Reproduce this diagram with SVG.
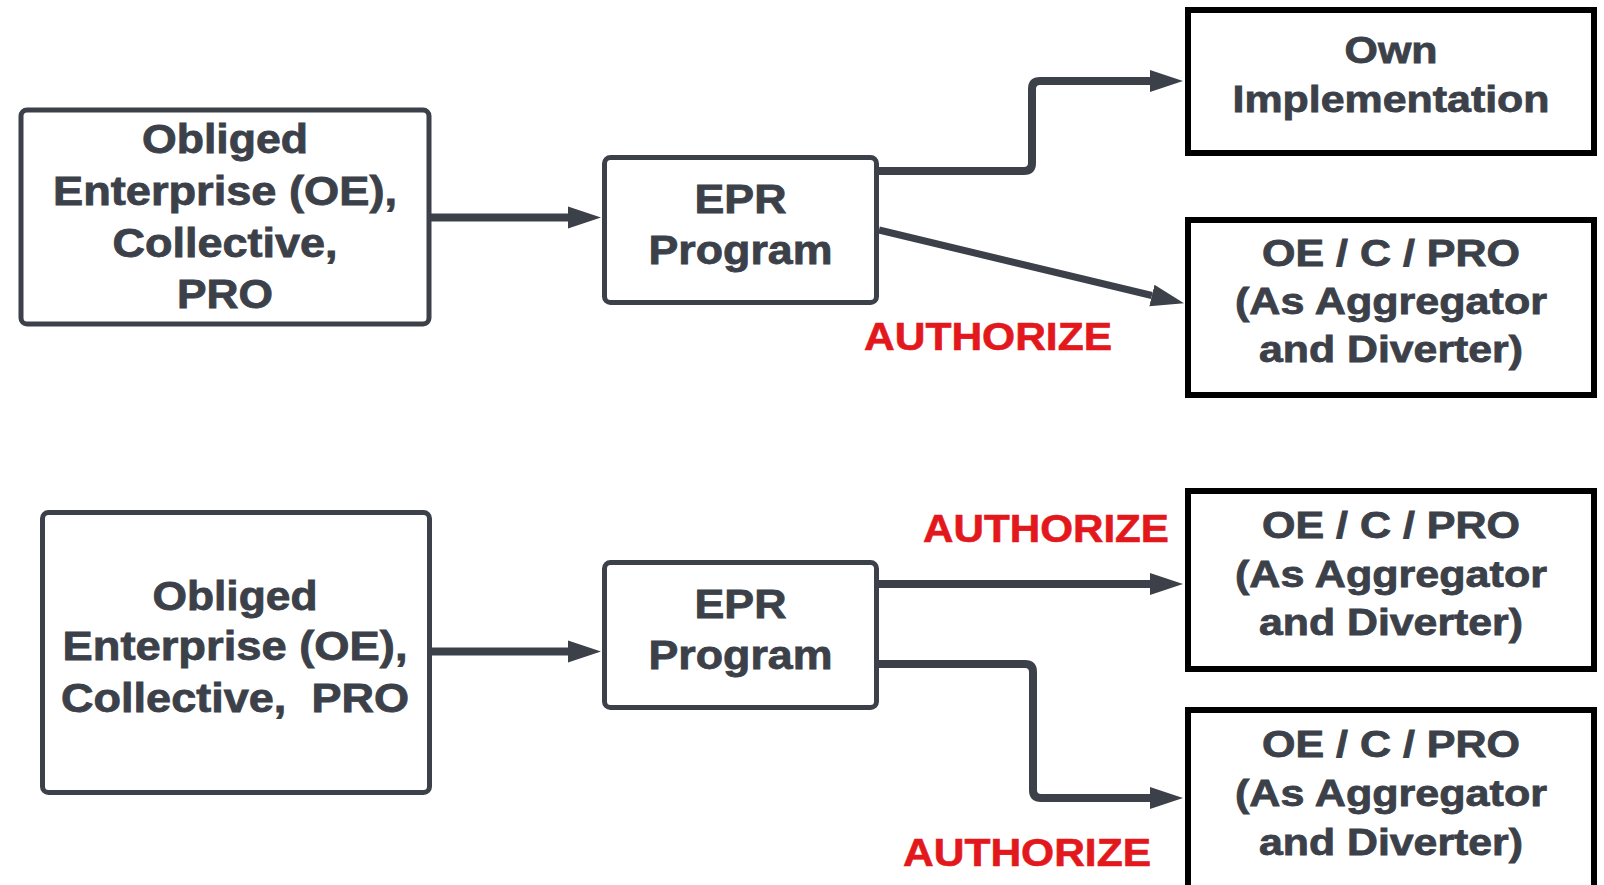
<svg xmlns="http://www.w3.org/2000/svg" width="1604" height="885" viewBox="0 0 1604 885">
<style>
.src{fill:#fff;stroke:#3b4049;stroke-width:5}
.dst{fill:#fff;stroke:#000;stroke-width:6}
.t{font-family:"Liberation Sans",Arial,sans-serif;font-weight:700;font-size:40px;fill:#3b4049;stroke:#3b4049;stroke-width:0.8;text-anchor:middle}
.tr{font-family:"Liberation Sans",Arial,sans-serif;font-weight:700;font-size:37px;fill:#3b4049;stroke:#3b4049;stroke-width:0.8;text-anchor:middle}
.auth{font-family:"Liberation Sans",Arial,sans-serif;font-weight:700;font-size:38px;fill:#e3181c;stroke:#e3181c;stroke-width:0.6;text-anchor:middle}
.c{fill:none;stroke:#3b4049;stroke-width:8;stroke-linejoin:round}
</style>
<defs>
<marker id="ah" markerUnits="userSpaceOnUse" viewBox="0 -12 34 24" markerWidth="34" markerHeight="24" refX="0" refY="0" orient="auto">
<path d="M0,-11 L33,0 L0,11 z" fill="#3b4049"/>
</marker>
</defs>
<rect width="1604" height="885" fill="#fff"/>
<g id="connectors">
<path class="c" d="M430,217.5 H568" marker-end="url(#ah)"/>
<path class="c" d="M877,171 H1024 Q1032,171 1032,163 V89 Q1032,81 1040,81 H1150" marker-end="url(#ah)"/>
<path class="c" style="stroke-width:7" d="M879,230 L1151.9,295.5" marker-end="url(#ah)"/>
<path class="c" d="M430,651.5 H568" marker-end="url(#ah)"/>
<path class="c" d="M877,584 H1150" marker-end="url(#ah)"/>
<path class="c" d="M877,664 H1025 Q1033,664 1033,672 V790 Q1033,798 1041,798 H1150" marker-end="url(#ah)"/>
</g>
<g id="oe-top">
<rect class="src" x="21" y="110" width="408" height="214" rx="6"/>
<text class="t" x="225" y="153" textLength="166" lengthAdjust="spacingAndGlyphs">Obliged</text>
<text class="t" x="225" y="205" textLength="344" lengthAdjust="spacingAndGlyphs">Enterprise (OE),</text>
<text class="t" x="225" y="257" textLength="225" lengthAdjust="spacingAndGlyphs">Collective,</text>
<text class="t" x="225" y="308" textLength="96" lengthAdjust="spacingAndGlyphs">PRO</text>
</g>
<g id="epr-top">
<rect class="src" x="604.5" y="157.5" width="272" height="145" rx="6"/>
<text class="t" x="740.5" y="213" textLength="92" lengthAdjust="spacingAndGlyphs">EPR</text>
<text class="t" x="740.5" y="264" textLength="184" lengthAdjust="spacingAndGlyphs">Program</text>
</g>
<g id="own-impl">
<rect class="dst" x="1188" y="10" width="406" height="143"/>
<text class="tr" x="1391" y="63" textLength="93" lengthAdjust="spacingAndGlyphs">Own</text>
<text class="tr" x="1391" y="112" textLength="317" lengthAdjust="spacingAndGlyphs">Implementation</text>
</g>
<g id="agg-top">
<rect class="dst" x="1188" y="220" width="406" height="175"/>
<text class="tr" x="1391" y="266" textLength="258" lengthAdjust="spacingAndGlyphs">OE / C / PRO</text>
<text class="tr" x="1391" y="314" textLength="312" lengthAdjust="spacingAndGlyphs">(As Aggregator</text>
<text class="tr" x="1391" y="362" textLength="264" lengthAdjust="spacingAndGlyphs">and Diverter)</text>
</g>
<g id="label-auth-1">
<text class="auth" x="988" y="350" textLength="248" lengthAdjust="spacingAndGlyphs">AUTHORIZE</text>
</g>
<g id="oe-bottom">
<rect class="src" x="42.5" y="512.5" width="387" height="280" rx="6"/>
<text class="t" x="235" y="610" textLength="165" lengthAdjust="spacingAndGlyphs">Obliged</text>
<text class="t" x="235" y="660" textLength="345" lengthAdjust="spacingAndGlyphs">Enterprise (OE),</text>
<text class="t" x="235" y="712" textLength="348" lengthAdjust="spacingAndGlyphs" xml:space="preserve">Collective,  PRO</text>
</g>
<g id="epr-bottom">
<rect class="src" x="604.5" y="562.5" width="272" height="145" rx="6"/>
<text class="t" x="740.5" y="618" textLength="92" lengthAdjust="spacingAndGlyphs">EPR</text>
<text class="t" x="740.5" y="669" textLength="184" lengthAdjust="spacingAndGlyphs">Program</text>
</g>
<g id="agg-mid">
<rect class="dst" x="1188" y="491" width="406" height="178"/>
<text class="tr" x="1391" y="538" textLength="258" lengthAdjust="spacingAndGlyphs">OE / C / PRO</text>
<text class="tr" x="1391" y="587" textLength="312" lengthAdjust="spacingAndGlyphs">(As Aggregator</text>
<text class="tr" x="1391" y="635" textLength="264" lengthAdjust="spacingAndGlyphs">and Diverter)</text>
</g>
<g id="agg-bottom">
<rect class="dst" x="1188" y="710" width="406" height="190"/>
<text class="tr" x="1391" y="757" textLength="258" lengthAdjust="spacingAndGlyphs">OE / C / PRO</text>
<text class="tr" x="1391" y="806" textLength="312" lengthAdjust="spacingAndGlyphs">(As Aggregator</text>
<text class="tr" x="1391" y="855" textLength="264" lengthAdjust="spacingAndGlyphs">and Diverter)</text>
</g>
<g id="label-auth-2">
<text class="auth" x="1046" y="542" textLength="246" lengthAdjust="spacingAndGlyphs">AUTHORIZE</text>
</g>
<g id="label-auth-3">
<text class="auth" x="1027" y="866" textLength="248" lengthAdjust="spacingAndGlyphs">AUTHORIZE</text>
</g>
</svg>
